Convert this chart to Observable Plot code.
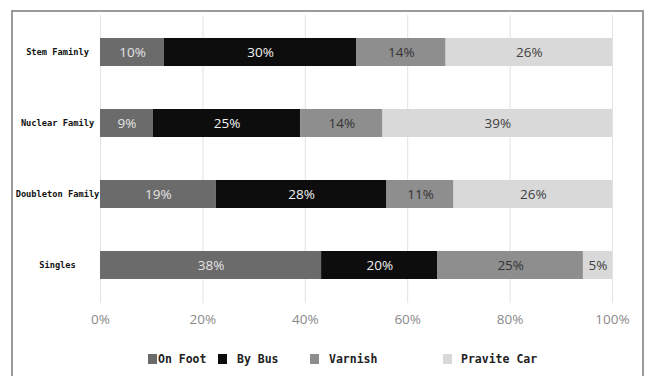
<!DOCTYPE html>
<html>
<head>
<meta charset="utf-8">
<script src="https://cdn.jsdelivr.net/npm/d3@7"></script>
<script src="https://cdn.jsdelivr.net/npm/@observablehq/plot@0.6"></script>
<style>
  html, body { margin: 0; padding: 0; background: #fff; }
  #wrap { position: relative; width: 650px; height: 376px; overflow: hidden; background: #fff; }
  #frame { position: absolute; left: 11px; top: 10px; width: 633px; height: 420px; border: 2px solid #9a9a9a; box-sizing: border-box; }
  #chart { position: absolute; left: 0; top: 0; }
  #legend { position: absolute; left: 0; top: 351px; width: 650px; height: 16px;
            font-family: "DejaVu Sans Mono", monospace; font-weight: bold; font-size: 11.5px; color: #222; }
  .item { position: absolute; top: 0; display: flex; align-items: center; height: 16px; white-space: pre; }
  .sw { display: inline-block; width: 9px; height: 10px; }
</style>
</head>
<body>
<div id="wrap">
  <div id="frame"></div>
  <div id="chart"></div>
  <div id="legend"></div>
</div>
<script>
const categories = ["Stem Faminly", "Nuclear Family", "Doubleton Family", "Singles"];
const modes = ["On Foot", "By Bus", "Varnish", "Pravite Car"];
const onFoot = [10, 9, 19, 38];
const byBus = [30, 25, 28, 20];
const varnish = [14, 14, 11, 25];
const praviteCar = [26, 39, 26, 5];
const xTicks = [0, 0.2, 0.4, 0.6, 0.8, 1];
const colors = ["#6b6b6b", "#0d0d0d", "#8e8e8e", "#d9d9d9"];
const labelColors = ["#e4e4e4", "#f2f2f2", "#333333", "#404040"];

const series = [onFoot, byBus, varnish, praviteCar];
const data = categories.flatMap((c, i) =>
  series.map((arr, j) => ({cat: c, mode: modes[j], value: arr[i]}))
);

const chart = Plot.plot({
  width: 650,
  height: 340,
  marginLeft: 100,
  marginRight: 38,
  marginTop: 15,
  marginBottom: 37,
  style: {fontFamily: "Open Sans, sans-serif", background: "transparent"},
  x: {domain: [0, 1], label: null},
  y: {domain: categories, paddingInner: 0.6, paddingOuter: 0.32, label: null},
  marks: [
    Plot.gridX(xTicks, {stroke: "#e2e2e2", strokeOpacity: 1}),
    Plot.axisX(xTicks, {tickSize: 0, tickPadding: 11, fontSize: 13.5, fill: "#8a8a8a", label: null,
      tickFormat: d => Math.round(d * 100) + "%"}),
    Plot.axisY({tickSize: 0, tickPadding: 43, textAnchor: "middle", fontSize: 8.7, label: null,
      fontWeight: "bold", fontFamily: "DejaVu Sans Mono, monospace", fill: "#111"}),
    Plot.barX(data, Plot.stackX({offset: "normalize", x: "value", y: "cat", z: "mode",
      fill: d => colors[modes.indexOf(d.mode)]})),
    Plot.text(data, Plot.stackX({offset: "normalize", x: "value", y: "cat", z: "mode",
      text: d => d.value + "%", fontSize: 13.5,
      fill: d => labelColors[modes.indexOf(d.mode)]}))
  ]
});
document.getElementById("chart").appendChild(chart);

const legendX = [148, 218, 310, 443];
const legendGap = [0, 9, 9, 8];
const legend = document.getElementById("legend");
modes.forEach((m, j) => {
  const it = document.createElement("div");
  it.className = "item";
  it.style.left = legendX[j] + "px";
  const sw = document.createElement("span");
  sw.className = "sw";
  sw.style.background = colors[j];
  sw.style.marginRight = (legendGap[j] + 1) + "px";
  it.appendChild(sw);
  const t = document.createElement("span");
  t.textContent = m;
  it.appendChild(t);
  legend.appendChild(it);
});
</script>
</body>
</html>
